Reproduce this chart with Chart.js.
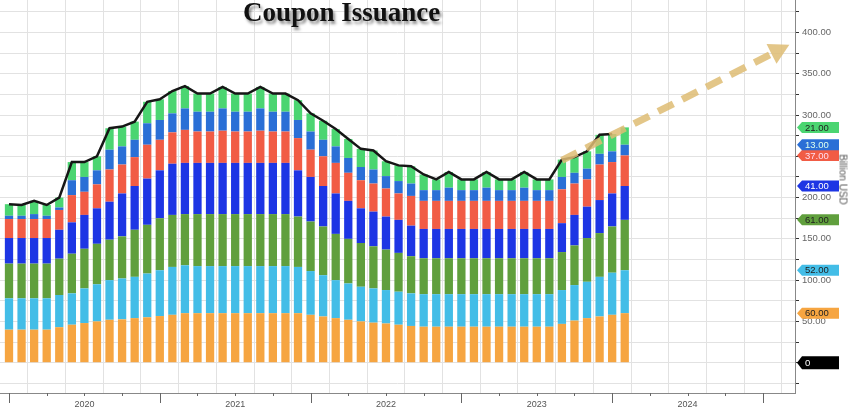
<!DOCTYPE html>
<html><head><meta charset="utf-8">
<script src="https://cdn.jsdelivr.net/npm/chart.js@4.4.1/dist/chart.umd.min.js"></script>
<style>
html,body{margin:0;padding:0;background:#fff;overflow:hidden}
#wrap{position:relative;width:848px;height:410px}
#title{position:absolute;left:243px;top:-1px;font:bold 27px "Liberation Serif","Times New Roman",serif;line-height:27px;color:#111;text-shadow:2px 3px 3px rgba(0,0,0,0.45);white-space:nowrap}
#ytitle{position:absolute;left:803px;top:174px;width:80px;text-align:center;font:10px "Liberation Sans",Arial,sans-serif;color:#555;transform:rotate(90deg);white-space:nowrap}
</style></head><body>
<div id="wrap"><canvas id="c" width="848" height="410"></canvas><div id="title">Coupon Issuance</div><div id="ytitle">Billion USD</div></div>
<script>
// Month index 0 = Jan 2020 (bars sit on month boundaries)
const monthIndex = Array.from({length:50},(_,i)=>i);
const yearLabels = ['2020','2021','2022','2023','2024'];

const s2y  = [40,40,40,40,43,46,48,50,52,52.5,54,55,56.5,58,60,60,60,60,60,60,60,60,60,60,58,56,54,52,50,48.5,47.5,46,44.5,43.6,43.6,43.6,43.6,43.6,43.6,43.6,43.6,43.6,43.6,43.6,47,51,54,56,58,60];
const s3y  = [38,38,38,38,39,38,42,45,48,49.5,50,53,55.5,58,58,57,57,57,57,57,57,57,57,56,53,50,46,44,42,41.5,40.5,40,39.5,39.4,39.4,39.4,39.4,39.4,39.4,39.4,39.4,39.4,39.4,39.4,41,43,44,48,51,52];
const s5y  = [42,42,42,42,44,48,48,49,49,51,57,59,63,63,62,63,63,63,63,63,63,63,63,61,60,59,56,54,53,51,49,47,45,43.5,43.5,43.5,43.5,43.5,43.5,43.5,43.5,43.5,43.5,43.5,46,48,53,53,56,61];
const s7y  = [31,31,31,31,35,38,41,43,46,52,53,56,58,62,62,62,62,62,62,62,62,62,62,56,54,49,49,46,42,42,40,40,37,35.5,35.5,35.5,35.5,35.5,35.5,35.5,35.5,35.5,35.5,35.5,35,37,38,40,40,41];
const s10y = [23,23,23,23,24,33,28,29,39,35,35,41,37,38,40,38,38,39,38,38,39,38,38,39,33,36,37,34,34,34,34,32,36,34,34,34,34,34,34,34,34,34,34,34,41,38,33,43,38,37];
const s20y = [4,4,6,4,3,18,18,17,24,22,21,26,24,23,26,24,24,27,24,24,27,24,24,22,22,20,20,18,16,17,15,15,15,13,13,16,13,13,16,13,13,16,13,13,15,13,13,13,13,13];
const s30y = [14,13,16,13,12,22,18,17,26,24,22,26,25,27,27,22,22,26,22,22,26,22,22,24,22,23,21,23,22,23,18,19,21,19,13,19,13,13,19,13,13,19,13,13,21,19,21,23,21,21];
const totalIssuance = [192,191,196,191,200,243,243,250,284,286,292,316,319,329,335,326,326,334,326,326,334,326,326,318,302,293,283,271,259,257,244,239,238,228,222,231,222,222,231,222,222,231,222,222,246,249,256,276,277,null];
const totalTagValue = 0;
const yTickValues = [-25,0,25,50,75,100,125,150,175,200,225,250,275,300,325,350,375,400,425];
const arrowFrom = [44, 245];
const arrowTo = [62.1, 385];

const seriesNames = ['2Y','3Y','5Y','7Y','10Y','20Y','30Y'];
const seriesData = [s2y,s3y,s5y,s7y,s10y,s20y,s30y];
const colors = ['#F6A541','#43BDE7','#609F3D','#1D35E4','#F15C45','#2A6FD6','#4BD571'];
const tagText = ['#222','#222','#222','#fff','#fde','#dfe','#222'];

const datasets = seriesData.map((d,i)=>({
  type:'bar', label:seriesNames[i], data:d.map((v,j)=>({x:monthIndex[j],y:v})),
  backgroundColor:colors[i], borderWidth:0, barPercentage:0.66, categoryPercentage:1, order:2, stack:'s'
}));
datasets.push({type:'line',label:'Total',data:totalIssuance.map((v,j)=>({x:monthIndex[j],y:v})),
  borderColor:'#161616',borderWidth:2.5,pointRadius:0,tension:0,order:0,stack:'t',spanGaps:false});

const overlay = {
  id:'overlay',
  afterDatasetsDraw(chart){
    const ctx=chart.ctx, xs=chart.scales.x, ys=chart.scales.y, ca=chart.chartArea;
    ctx.save();
    ctx.beginPath(); ctx.rect(ca.left,ca.top,ca.right-ca.left,ca.bottom-ca.top); ctx.clip();
    const x0=xs.getPixelForValue(arrowFrom[0]), y0=ys.getPixelForValue(arrowFrom[1]);
    const x1=xs.getPixelForValue(arrowTo[0]), y1=ys.getPixelForValue(arrowTo[1]);
    const ang=Math.atan2(y1-y0,x1-x0), headLen=20, headW=11;
    const bx=x1-headLen*Math.cos(ang), by=y1-headLen*Math.sin(ang);
    ctx.strokeStyle='rgba(222,188,115,0.85)'; ctx.fillStyle='rgba(222,188,115,0.85)';
    ctx.lineWidth=7; ctx.setLineDash([17,10]);
    ctx.beginPath(); ctx.moveTo(x0,y0); ctx.lineTo(bx,by); ctx.stroke();
    ctx.setLineDash([]);
    ctx.beginPath(); ctx.moveTo(x1,y1);
    ctx.lineTo(bx+headW*Math.sin(ang), by-headW*Math.cos(ang));
    ctx.lineTo(bx-headW*Math.sin(ang), by+headW*Math.cos(ang));
    ctx.closePath(); ctx.fill();
    ctx.restore();
  },
  afterDraw(chart){
    const ctx=chart.ctx, xs=chart.scales.x, ys=chart.scales.y, ca=chart.chartArea;
    ctx.save();
    // x ticks
    ctx.strokeStyle='#666'; ctx.lineWidth=1;
    for(let v=0; v<=60; v+=3){
      const x=Math.round(xs.getPixelForValue(v))+0.5, len=(v%12===0)?10:3;
      ctx.beginPath(); ctx.moveTo(x,ca.bottom); ctx.lineTo(x,ca.bottom+len); ctx.stroke();
    }
    // value tags
    const last=monthIndex.length-1;
    let cum=0;
    const tags=[];
    seriesData.forEach((d,i)=>{cum+=d[last]; tags.push({y:cum,text:d[last].toFixed(2),bg:colors[i],fg:tagText[i],h:11});});
    tags.push({y:totalTagValue,text:String(totalTagValue),bg:'#000',fg:'#fff',h:13});
    ctx.font='9.5px "Liberation Sans", Arial, sans-serif'; ctx.textBaseline='middle';
    tags.forEach(t=>{
      const y=ys.getPixelForValue(t.y), l=ca.right+2, r=ca.right+44, h=t.h/2;
      ctx.fillStyle=t.bg;
      ctx.beginPath(); ctx.moveTo(l,y); ctx.lineTo(l+5,y-h); ctx.lineTo(r,y-h); ctx.lineTo(r,y+h); ctx.lineTo(l+5,y+h); ctx.closePath(); ctx.fill();
      ctx.fillStyle=t.fg; ctx.fillText(t.text,l+8,y+0.5);
    });
    ctx.restore();
  }
};

new Chart(document.getElementById('c'),{
  data:{datasets},
  options:{
    responsive:false, animation:false, layout:{padding:0},
    plugins:{legend:{display:false},tooltip:{enabled:false}},
    scales:{
      x:{type:'linear',min:-0.716,max:62.55,stacked:true,offset:false,
        grid:{color:'#e2e2e2',drawTicks:false},
        border:{color:'#888'},
        afterBuildTicks:(s)=>{const t=[];for(let v=0;v<=60;v+=3)t.push({value:v});s.ticks=t;},
        ticks:{autoSkip:false,maxRotation:0,padding:6,color:'#555',font:{size:9,family:'"Liberation Sans", Arial, sans-serif'},
          callback:(v)=> (v%12===6) ? (yearLabels[(v-6)/12]||'') : ''},
        afterFit:(s)=>{s.height=17;s.paddingLeft=0;s.paddingRight=0;}
      },
      y:{type:'linear',position:'right',min:-36.7,max:439.3,stacked:true,
        grid:{color:'#e2e2e2',tickLength:4,tickColor:'#333'},
        border:{color:'#888'},
        afterBuildTicks:(s)=>{s.ticks=yTickValues.map(v=>({value:v}));},
        ticks:{autoSkip:false,padding:3,color:'#666',font:{size:9.5,family:'"Liberation Sans", Arial, sans-serif'},
          callback:(v)=> (v>=0 && v%50===0) ? v.toFixed(2) : ''},
        afterFit:(s)=>{s.width=53;s.paddingTop=0;s.paddingBottom=0;}
      }
    }
  },
  plugins:[overlay]
});
</script></body></html>
